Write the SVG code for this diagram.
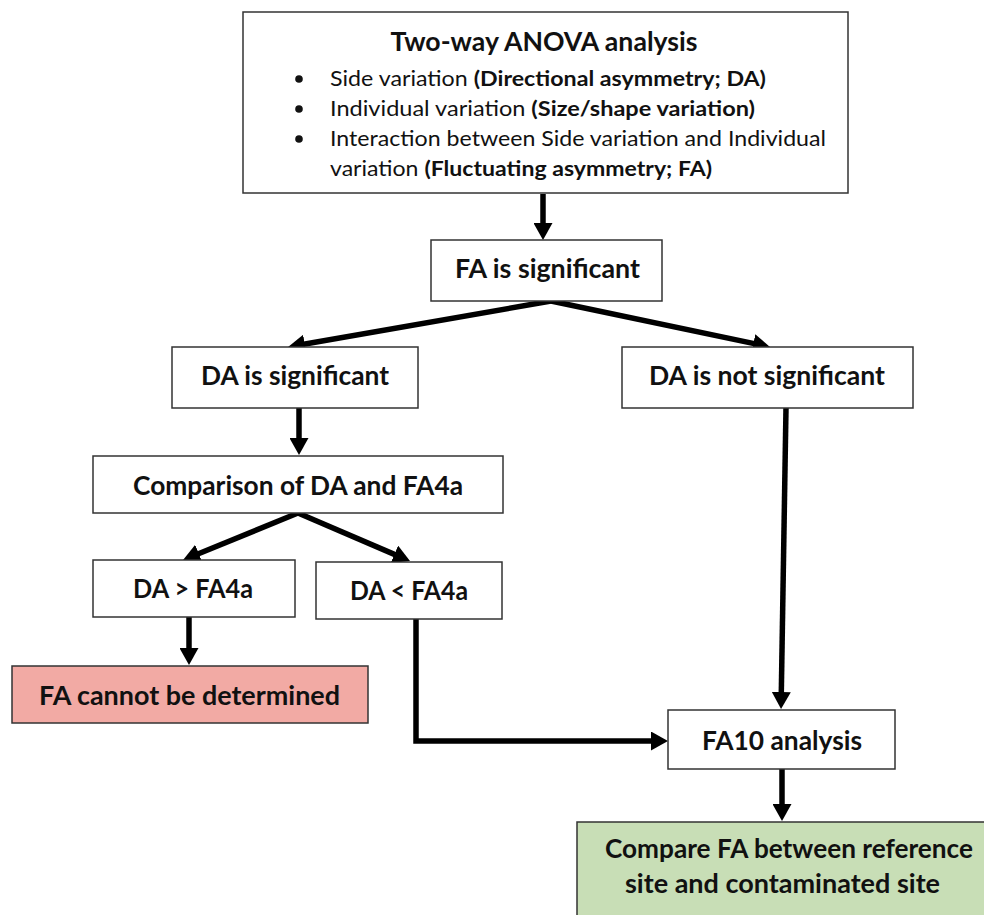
<svg xmlns="http://www.w3.org/2000/svg" width="984" height="915" viewBox="0 0 984 915">
<defs>
<style>
.box{fill:#ffffff;stroke:#333333;stroke-width:1.5}
.lbl{font-family:Lato,"Open Sans","Liberation Sans",sans-serif;font-weight:bold;font-size:27px;fill:#111111}
.body{font-family:Lato,"Open Sans","Liberation Sans",sans-serif;font-size:21px;fill:#111111}
.b{font-weight:bold}
.con{stroke:#000000;stroke-width:5.5;fill:none}
</style>
<marker id="ah" markerUnits="userSpaceOnUse" markerWidth="17" markerHeight="19" viewBox="0 0 17 19" refX="7" refY="9.5" orient="auto">
<path d="M0,0 L17,9.5 L0,19 z" fill="#000000"/>
</marker>
</defs>
<rect width="984" height="915" fill="#ffffff"/>

<g id="connectors">
<line class="con" x1="543" y1="194" x2="543" y2="230" marker-end="url(#ah)"/>
<line class="con" x1="551" y1="301" x2="297.9" y2="345.3" marker-end="url(#ah)"/>
<line class="con" x1="551" y1="301" x2="760.2" y2="344.9" marker-end="url(#ah)"/>
<line class="con" x1="299" y1="408" x2="299" y2="445" marker-end="url(#ah)"/>
<line class="con" x1="298" y1="513" x2="192.3" y2="556.2" marker-end="url(#ah)"/>
<line class="con" x1="298" y1="513" x2="400.8" y2="557.1" marker-end="url(#ah)"/>
<line class="con" x1="189" y1="617" x2="189" y2="655" marker-end="url(#ah)"/>
<path class="con" d="M416,619 V741 H658" marker-end="url(#ah)"/>
<line class="con" x1="786" y1="408" x2="781.2" y2="699" marker-end="url(#ah)"/>
<line class="con" x1="782" y1="769" x2="782" y2="811" marker-end="url(#ah)"/>
</g>

<g id="node-anova">
<rect class="box" x="243" y="12" width="605" height="181"/>
<text class="lbl" x="544" y="51" text-anchor="middle" font-size="28" textLength="307" lengthAdjust="spacingAndGlyphs">Two-way ANOVA analysis</text>
<circle cx="299" cy="79" r="3.8" fill="#111111"/>
<circle cx="299" cy="109" r="3.8" fill="#111111"/>
<circle cx="299" cy="139" r="3.8" fill="#111111"/>
<text class="body" x="330" y="86" textLength="436" lengthAdjust="spacingAndGlyphs">Side variation <tspan class="b">(Directional asymmetry; DA)</tspan></text>
<text class="body" x="330" y="116" textLength="425" lengthAdjust="spacingAndGlyphs">Individual variation <tspan class="b">(Size/shape variation)</tspan></text>
<text class="body" x="330" y="146" textLength="496" lengthAdjust="spacingAndGlyphs">Interaction between Side variation and Individual</text>
<text class="body" x="330" y="176" textLength="382" lengthAdjust="spacingAndGlyphs">variation <tspan class="b">(Fluctuating asymmetry; FA)</tspan></text>
</g>

<g id="node-fa-sig">
<rect class="box" x="431" y="240" width="231" height="61"/>
<text class="lbl" x="455" y="278" textLength="185" lengthAdjust="spacingAndGlyphs">FA is significant</text>
</g>

<g id="node-da-sig">
<rect class="box" x="172" y="347" width="246" height="61"/>
<text class="lbl" x="201" y="385" textLength="188" lengthAdjust="spacingAndGlyphs">DA is significant</text>
</g>

<g id="node-da-notsig">
<rect class="box" x="622" y="347" width="291" height="61"/>
<text class="lbl" x="649" y="385" textLength="236" lengthAdjust="spacingAndGlyphs">DA is not significant</text>
</g>

<g id="node-compare">
<rect class="box" x="93" y="456" width="410" height="57"/>
<text class="lbl" x="133" y="495" textLength="330" lengthAdjust="spacingAndGlyphs">Comparison of DA and FA4a</text>
</g>

<g id="node-da-gt">
<rect class="box" x="93" y="560" width="202" height="57"/>
<text class="lbl" x="133" y="598" textLength="120" lengthAdjust="spacingAndGlyphs">DA &gt; FA4a</text>
</g>

<g id="node-da-lt">
<rect class="box" x="316" y="562" width="186" height="57"/>
<text class="lbl" x="350" y="600" textLength="118" lengthAdjust="spacingAndGlyphs">DA &lt; FA4a</text>
</g>

<g id="node-fa-cannot">
<rect x="12" y="666" width="356" height="57" fill="#f2aaa4" stroke="#333333" stroke-width="1.5"/>
<text class="lbl" x="39" y="705" textLength="301" lengthAdjust="spacingAndGlyphs">FA cannot be determined</text>
</g>

<g id="node-fa10">
<rect class="box" x="668" y="710" width="227" height="59"/>
<text class="lbl" x="702" y="750" textLength="160" lengthAdjust="spacingAndGlyphs">FA10 analysis</text>
</g>

<g id="node-compare-fa">
<rect x="577" y="822" width="420" height="100" fill="#c8deb6" stroke="#333333" stroke-width="1.5"/>
<text class="lbl" x="605" y="858" textLength="368" lengthAdjust="spacingAndGlyphs">Compare FA between reference</text>
<text class="lbl" x="625" y="893" textLength="315" lengthAdjust="spacingAndGlyphs">site and contaminated site</text>
</g>
</svg>
